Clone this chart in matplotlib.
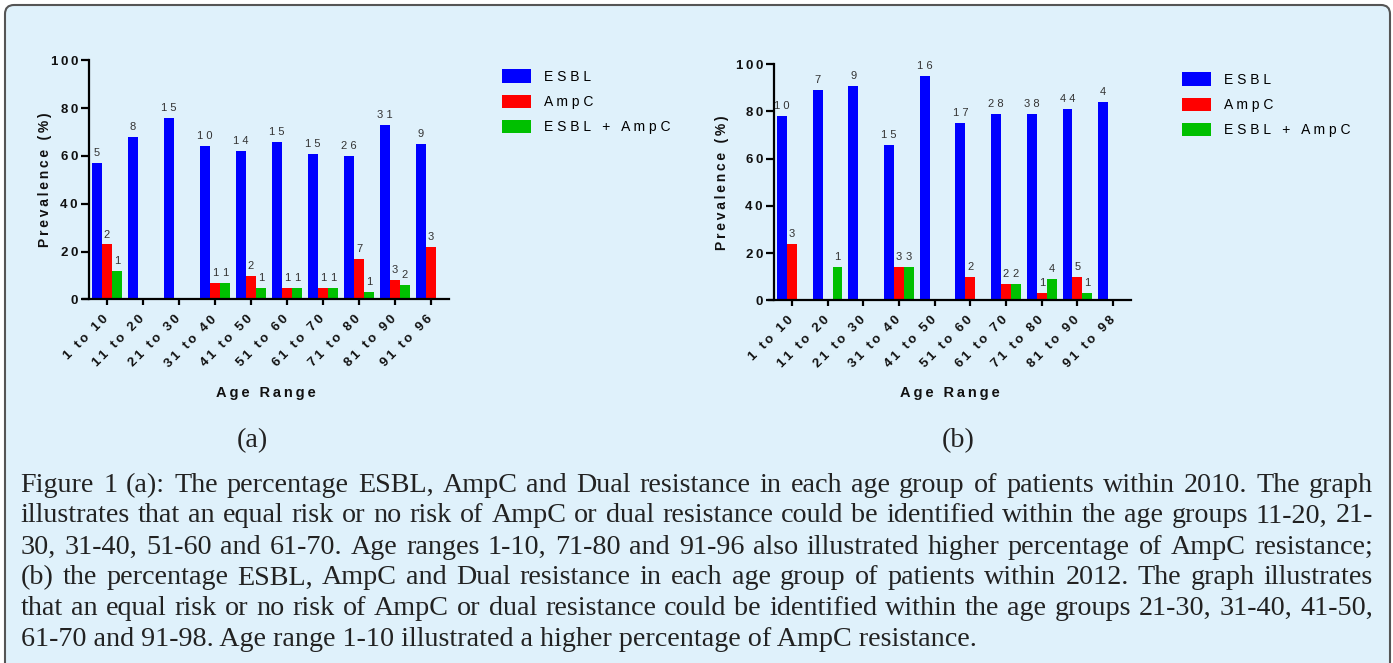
import matplotlib
matplotlib.use('Agg')
import matplotlib.pyplot as plt
import numpy as np
from matplotlib.patches import FancyBboxPatch

# ---------------- data ----------------
categories_a = ['1 to 10', '11 to 20', '21 to 30', '31 to 40', '41 to 50',
                '51 to 60', '61 to 70', '71 to 80', '81 to 90', '91 to 96']
categories_b = ['1 to 10', '11 to 20', '21 to 30', '31 to 40', '41 to 50',
                '51 to 60', '61 to 70', '71 to 80', '81 to 90', '91 to 98']
series_names = ['ESBL', 'AmpC', 'ESBL + AmpC']

esbl_a = [57, 68, 76, 64, 62, 66, 61, 60, 73, 65]
ampc_a = [23, 0, 0, 7, 10, 5, 5, 17, 8, 22]
dual_a = [12, 0, 0, 7, 5, 5, 5, 3, 6, 0]
esbl_a_n = [5, 8, 15, 10, 14, 15, 15, 26, 31, 9]
ampc_a_n = [2, None, None, 1, 2, 1, 1, 7, 3, 3]
dual_a_n = [1, None, None, 1, 1, 1, 1, 1, 2, None]

esbl_b = [78, 89, 91, 66, 95, 75, 79, 79, 81, 84]
ampc_b = [24, 0, 0, 14, 0, 10, 7, 3, 10, 0]
dual_b = [0, 14, 0, 14, 0, 0, 7, 9, 3, 0]
esbl_b_n = [10, 7, 9, 15, 16, 17, 28, 38, 44, 4]
ampc_b_n = [3, None, None, 3, None, 2, 2, 1, 5, None]
dual_b_n = [None, 1, None, 3, None, None, 2, 4, 1, None]

y_ticks = [0, 20, 40, 60, 80, 100]

caption_lines = [
    "Figure 1 (a): The percentage ESBL, AmpC and Dual resistance in each age group of patients within 2010. The graph",
    "illustrates that an equal risk or no risk of AmpC or dual resistance could be identified within the age groups 11-20, 21-",
    "30, 31-40, 51-60 and 61-70. Age ranges 1-10, 71-80 and 91-96 also illustrated higher percentage of AmpC resistance;",
    "(b) the percentage ESBL, AmpC and Dual resistance in each age group of patients within 2012. The graph illustrates",
    "that an equal risk or no risk of AmpC or dual resistance could be identified within the age groups 21-30, 31-40, 41-50,",
    "61-70 and 91-98. Age range 1-10 illustrated a higher percentage of AmpC resistance.",
]

# ---------------- style ----------------
W, H = 1393, 663
BG = '#dff1fb'
COLORS = ['#0000ff', '#ff0000', '#00c000']
SANS = ['Liberation Sans', 'DejaVu Sans']
SERIF = 'Liberation Serif'
TXT = '#222222'
INK = '#111111'


def sp(s):
    return ' '.join(s)


def thin(s):
    return '\u2009'.join(s)


fig = plt.figure(figsize=(W / 100, H / 100), dpi=100, facecolor='white')

# background axes in pixel coordinates
bg = fig.add_axes([0, 0, 1, 1], zorder=-10)
bg.set_xlim(0, W)
bg.set_ylim(H, 0)
bg.axis('off')
bg.add_patch(FancyBboxPatch((5, 5), 1385, 720, boxstyle='round,pad=0,rounding_size=9',
                            facecolor=BG, edgecolor='#555555', linewidth=1.5))


def px_axes(left, right, top, bottom):
    return [left / W, 1 - bottom / H, (right - left) / W, (bottom - top) / H]


def panel(rect, xlo, cats, vals, counts, ylab_x, xlab_y):
    ax = fig.add_axes(rect)
    ax.patch.set_alpha(0)
    x = np.arange(len(cats))
    w = 0.278
    conts = []
    for k, (v, n, c) in enumerate(zip(vals, counts, COLORS)):
        v = np.asarray(v, dtype=float)
        idx = np.where(v > 0)[0]
        cont = ax.bar(x[idx] + (k - 1) * w, v[idx], width=w, color=c,
                      linewidth=0, label=series_names[k])
        conts.append(cont)
        for i in range(len(cats)):
            if n[i] is not None:
                ax.annotate(sp(str(n[i])), (x[i] + (k - 1) * w, v[i]),
                            xytext=(0, 3.5), textcoords='offset points',
                            ha='center', va='bottom', fontsize=8,
                            family=SANS, color='#333333')
    ax.set_xlim(xlo, 9.5)
    ax.set_ylim(0, 100)
    for s in ['top', 'right']:
        ax.spines[s].set_visible(False)
    ax.spines['left'].set_position(('data', -0.5))
    for s in ['left', 'bottom']:
        ax.spines[s].set_linewidth(1.6)
    ax.set_yticks(y_ticks)
    ax.set_yticklabels([thin(str(t)) for t in y_ticks], fontsize=9.5,
                       fontweight='bold', family=SANS, color=INK)
    ax.set_xticks(x)
    ax.set_xticklabels([thin(c) for c in cats], rotation=45, ha='right',
                       va='center', rotation_mode='anchor', fontsize=9.5,
                       fontweight='bold', family=SANS, color=INK)
    ax.tick_params(axis='y', length=6, width=1.6, pad=2)
    ax.tick_params(axis='x', length=4, width=1.6, pad=9)
    ax.set_ylabel(thin('Prevalence (%)'), fontsize=10, fontweight='bold',
                  family=SANS, va='center', color=INK)
    ax.yaxis.set_label_coords(ylab_x, 0.5)
    ax.set_xlabel(thin('Age Range'), fontsize=10.5, fontweight='bold',
                  family=SANS, va='center', color=INK)
    ax.xaxis.set_label_coords(0.5, xlab_y)
    return ax, conts


# panel a
rect_a = px_axes(82.9, 449, 60.2, 299.5)
ax_a, conts_a = panel(rect_a, -0.67, categories_a, [esbl_a, ampc_a, dual_a],
                      [esbl_a_n, ampc_a_n, dual_a_n],
                      (45 - 82.9) / (449 - 82.9), (299.5 - 393) / (299.5 - 60.2))
# panel b
rect_b = px_axes(769, 1131, 64.3, 300.3)
ax_b, conts_b = panel(rect_b, -0.64, categories_b, [esbl_b, ampc_b, dual_b],
                      [esbl_b_n, ampc_b_n, dual_b_n],
                      (722 - 769) / (1131 - 769), (300.3 - 393) / (300.3 - 64.3))

fs_leg = 10
fspx = fs_leg * 100 / 72
for conts, (lx, ly) in [(conts_a, (502, 69.5)), (conts_b, (1182, 72.5))]:
    fig.legend(conts, [sp(s) for s in series_names], loc='upper left',
               bbox_to_anchor=(lx / W, 1 - ly / H), frameon=False,
               borderpad=0, borderaxespad=0, handlelength=29 / fspx,
               handleheight=15 / fspx, handletextpad=13 / fspx,
               labelspacing=0.78, prop={'family': SANS, 'size': fs_leg})

# ---------------- caption (justified) ----------------
renderer = fig.canvas.get_renderer()


def text_width(s, size):
    t = bg.text(0, 0, s, family=SERIF, fontsize=size)
    bb = t.get_window_extent(renderer)
    t.remove()
    return bb.width


# fit font so the last (left aligned) line spans its measured width
base = 18
target_last = 977 - 20.7
cap_fs = base * target_last / text_width(caption_lines[-1], base)

left_x, right_x = 20.7, 1373
baselines = [491.7, 522.5, 553.5, 584.5, 615.3, 646]
for li, (line, yb) in enumerate(zip(caption_lines, baselines)):
    words = line.split(' ')
    if li == len(caption_lines) - 1:
        bg.text(left_x, yb, line, family=SERIF, fontsize=cap_fs, color=TXT,
                va='baseline', ha='left')
        continue
    widths = [text_width(wd, cap_fs) for wd in words]
    gap = (right_x - left_x - sum(widths)) / (len(words) - 1)
    xpos = left_x
    for wd, wv in zip(words, widths):
        bg.text(xpos, yb, wd, family=SERIF, fontsize=cap_fs, color=TXT,
                va='baseline', ha='left')
        xpos += wv + gap

bg.text(252, 447, '(a)', family=SERIF, fontsize=cap_fs, color=TXT,
        va='baseline', ha='center')
bg.text(958, 447, '(b)', family=SERIF, fontsize=cap_fs, color=TXT,
        va='baseline', ha='center')

fig.savefig('out.png', dpi=100, facecolor='white')
